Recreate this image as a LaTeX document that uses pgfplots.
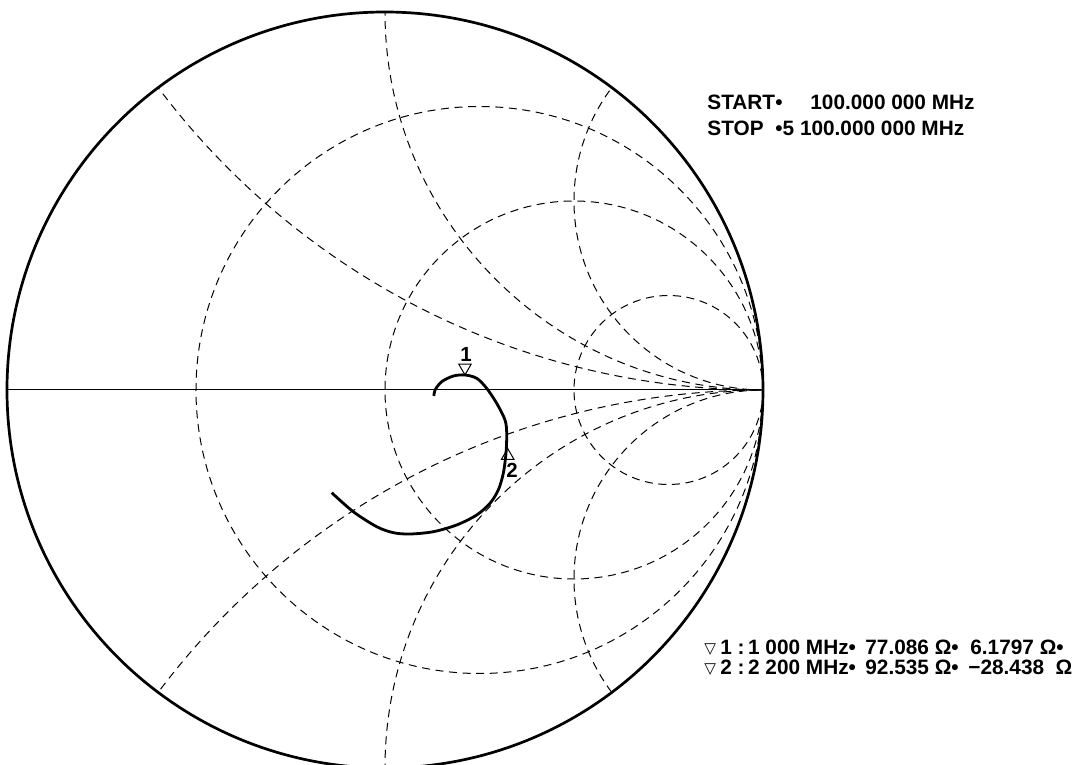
\documentclass[border=0pt]{standalone}
\usepackage{pgfplots}
\pgfplotsset{compat=1.18}
\usepackage{fontspec}
\setmainfont{Liberation Sans}
\newfontfamily\dejavu{DejaVu Sans}
\newcommand\pxc[2]{({(#1-385)*0.5pt},{(390-#2)*0.5pt})}
\begin{document}
\begin{tikzpicture}
\tikzset{grid/.style={line width=0.5pt, dash pattern=on 4pt off 2.8pt}}
\begin{axis}[hide axis, scale only axis, width=378pt, height=378pt,
  xmin=-1, xmax=1, ymin=-1, ymax=1, at={(0pt,0pt)}, anchor=center, clip=false]
\begin{scope}
\clip (axis cs:0,0) circle[radius=1];
% resistance circles r = 1/3, 1, 3
\draw[grid] (axis cs:0.25,0) circle[radius=0.75];
\draw[grid] (axis cs:0.5,0) circle[radius=0.5];
\draw[grid] (axis cs:0.75,0) circle[radius=0.25];
% reactance arcs x = +-0.5, +-1, +-2
\draw[grid] (axis cs:1,2) circle[radius=2];
\draw[grid] (axis cs:1,1) circle[radius=1];
\draw[grid] (axis cs:1,0.5) circle[radius=0.5];
\draw[grid] (axis cs:1,-2) circle[radius=2];
\draw[grid] (axis cs:1,-1) circle[radius=1];
\draw[grid] (axis cs:1,-0.5) circle[radius=0.5];
\end{scope}
\draw[line width=0.5pt] (axis cs:-1,0) -- (axis cs:1,0);
\draw[line width=1.35pt] (axis cs:0,0) circle[radius=1];
\addplot[line width=1.4pt, smooth, no marks] coordinates {
(0.1296,-0.0159) (0.1323,0) (0.150,0.022) (0.1807,0.037) (0.2116,0.0397)
(0.2426,0.031) (0.269,0.0045) (0.2955,-0.0352) (0.3175,-0.0794) (0.322,-0.1146)
(0.3201,-0.1675) (0.313,-0.2204) (0.2997,-0.2646) (0.2778,-0.2997) (0.2426,-0.3307)
(0.1897,-0.3571) (0.1278,-0.3749) (0.0661,-0.381) (0.022,-0.3775) (-0.022,-0.3616)
(-0.0839,-0.322) (-0.141,-0.2717)};
\addplot[only marks, mark=triangle, mark size=3.6pt, mark options={line width=0.5pt, fill=white, rotate=180}] coordinates {(0.2116,0.059)};
\addplot[only marks, mark=triangle, mark size=3.6pt, mark options={line width=0.5pt, fill=white}] coordinates {(0.3246,-0.1738)};
\node[font=\fontsize{10.2}{12}\bfseries\selectfont] at (axis cs:0.2143,0.0952) {1};
\node[font=\fontsize{10.2}{12}\bfseries\selectfont] at (axis cs:0.336,-0.2116) {2};
\end{axis}
\begin{scope}[every node/.style={anchor=base west, inner sep=0pt, font=\fontsize{10.4}{12}\bfseries\selectfont}]
\node at \pxc{707}{110} {START};
\node at \pxc{775}{110} {•};
\node at \pxc{810}{110} {100.000 000 MHz};
\node at \pxc{707}{136} {STOP};
\node at \pxc{775}{136} {•5 100.000 000 MHz};
\node at \pxc{704}{654} {\dejavu\fontsize{7.6}{9}\selectfont ▽};
\node at \pxc{720}{655} {1 :\,1 000 MHz•};
\node at \pxc{865}{655} {77.086 Ω•};
\node at \pxc{970}{655} {6.1797 Ω•};
\node at \pxc{704}{674} {\dejavu\fontsize{7.6}{9}\selectfont ▽};
\node at \pxc{720}{675} {2 :\,2 200 MHz•};
\node at \pxc{865}{675} {92.535 Ω•};
\node at \pxc{968}{675} {−28.438\ \ Ω};
\end{scope}
\pgfresetboundingbox
\path[use as bounding box] \pxc{0}{0} rectangle \pxc{1089}{765};
\end{tikzpicture}
\end{document}
